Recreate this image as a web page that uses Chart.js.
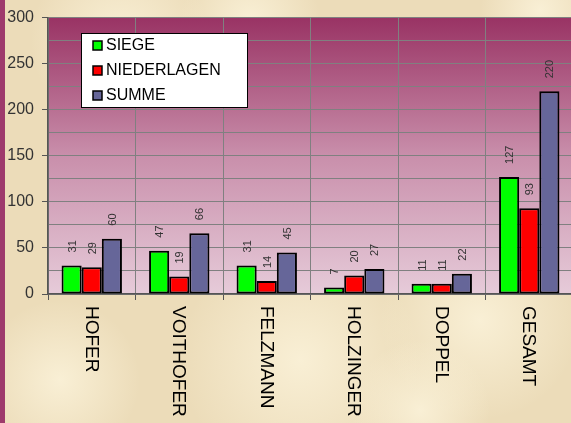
<!DOCTYPE html>
<html>
<head>
<meta charset="utf-8">
<script src="https://cdn.jsdelivr.net/npm/chart.js@4"></script>
<style>
  html, body { margin: 0; padding: 0; overflow: hidden; background: #efe1c2; }
  #wrap { position: relative; width: 571px; height: 423px; overflow: hidden; }
  #chart { position: absolute; left: 0; top: 0; }
</style>
</head>
<body>
<div id="wrap"><canvas id="chart" width="600" height="423"></canvas></div>
<script>
const categories = ["HOFER", "VOITHOFER", "FELZMANN", "HOLZINGER", "DOPPEL", "GESAMT"];
const siege = [31, 47, 31, 7, 11, 127];
const niederlagen = [29, 19, 14, 20, 11, 93];
const summe = [60, 66, 45, 27, 22, 220];

const ctx = document.getElementById("chart");

// parchment, left strip and plot gradient
const backgroundPlugin = {
    id: "background",
    beforeDraw(chart) {
        const c = chart.ctx;
        const a = chart.chartArea;
        c.save();
        c.fillStyle = "#ecdcb9";
        c.fillRect(0, 0, chart.width, chart.height);
        const spots = [[120, 40, 90], [300, 360, 120], [480, 320, 100], [60, 380, 80], [250, 20, 70], [540, 10, 60], [420, 410, 70]];
        spots.forEach(([x, y, r]) => {
            const g = c.createRadialGradient(x, y, 0, x, y, r);
            g.addColorStop(0, "rgba(252,244,220,0.8)");
            g.addColorStop(1, "rgba(252,244,220,0)");
            c.fillStyle = g;
            c.fillRect(x - r, y - r, r * 2, r * 2);
        });
        c.fillStyle = "#9e3a6c";
        c.fillRect(0, 0, 5, chart.height);
        const grad = c.createLinearGradient(0, a.top, 0, a.bottom);
        grad.addColorStop(0, "#993364");
        grad.addColorStop(0.5, "#c98fab");
        grad.addColorStop(1, "#e6cbd9");
        c.fillStyle = grad;
        c.fillRect(a.left, a.top, a.right - a.left, a.bottom - a.top);
        c.restore();
    },
};

// rotated value labels, category labels and the boxed legend
const labelsPlugin = {
    id: "labels",
    afterDatasetsDraw(chart) {
        const c = chart.ctx;
        c.save();
        c.fillStyle = "#333";
        c.font = "11px 'Liberation Sans', Arial, sans-serif";
        c.textAlign = "left";
        c.textBaseline = "middle";
        chart.data.datasets.forEach((ds, i) => {
            chart.getDatasetMeta(i).data.forEach((bar, j) => {
                c.save();
                c.translate(bar.x + 1, bar.y - 13);
                c.rotate(-Math.PI / 2);
                c.fillText(String(ds.data[j]), 0, 0);
                c.restore();
            });
        });
        const xs = chart.scales.x;
        c.fillStyle = "#000";
        c.font = "19px 'Liberation Sans', Arial, sans-serif";
        categories.forEach((name, i) => {
            c.save();
            c.translate(xs.getPixelForValue(i) - 1, 306);
            c.rotate(Math.PI / 2);
            c.fillText(name, 0, 0);
            c.restore();
        });
        c.restore();
    },
    afterDraw(chart) {
        const c = chart.ctx;
        c.save();
        c.fillStyle = "#fff";
        c.fillRect(81, 33, 166, 74);
        c.strokeStyle = "#000";
        c.lineWidth = 1;
        c.strokeRect(81.5, 33.5, 166, 74);
        c.font = "16px 'Liberation Sans', Arial, sans-serif";
        c.textBaseline = "middle";
        c.textAlign = "left";
        chart.data.datasets.forEach((ds, i) => {
            const y = 45 + i * 25;
            c.fillStyle = ds.backgroundColor;
            c.fillRect(93, y - 4, 9, 9);
            c.strokeStyle = "#000";
            c.lineWidth = 1.5;
            c.strokeRect(93, y - 4, 9, 9);
            c.fillStyle = "#000";
            c.fillText(ds.label, 106, y + 1);
        });
        c.restore();
    },
};

new Chart(ctx, {
    type: "bar",
    plugins: [backgroundPlugin, labelsPlugin],
    data: {
        labels: categories,
        datasets: [
            { label: "SIEGE", data: siege, backgroundColor: "#00ff00" },
            { label: "NIEDERLAGEN", data: niederlagen, backgroundColor: "#ff0000" },
            { label: "SUMME", data: summe, backgroundColor: "#666699" },
        ].map(d => Object.assign(d, { borderColor: "#000", borderWidth: 2, borderSkipped: false })),
    },
    options: {
        responsive: false,
        animation: false,
        layout: { padding: { left: 0, top: 17, right: 27, bottom: 0 } },
        datasets: { bar: { categoryPercentage: 0.69, barPercentage: 1.0 } },
        plugins: { legend: { display: false }, tooltip: { enabled: false } },
        scales: {
            x: {
                grid: { color: "#808080", lineWidth: 1, tickLength: 6, tickColor: "#555", offset: true },
                border: { color: "#555", width: 1.5 },
                ticks: { display: false },
                afterFit(scale) { scale.height = 129; },
            },
            y: {
                min: 0,
                max: 300,
                ticks: {
                    stepSize: 25,
                    color: "#333",
                    padding: 8,
                    font: { size: 16, family: "'Liberation Sans', Arial, sans-serif" },
                    callback: v => (v % 50 === 0 ? v : ""),
                },
                grid: {
                    color: "#808080",
                    lineWidth: 1,
                    tickLength: 6,
                    tickColor: c => (c.tick && c.tick.value % 50 === 0 ? "#555" : "rgba(0,0,0,0)"),
                },
                border: { color: "#555", width: 1.5 },
                afterFit(scale) { scale.width = 48; },
            },
        },
    },
});
</script>
</body>
</html>
